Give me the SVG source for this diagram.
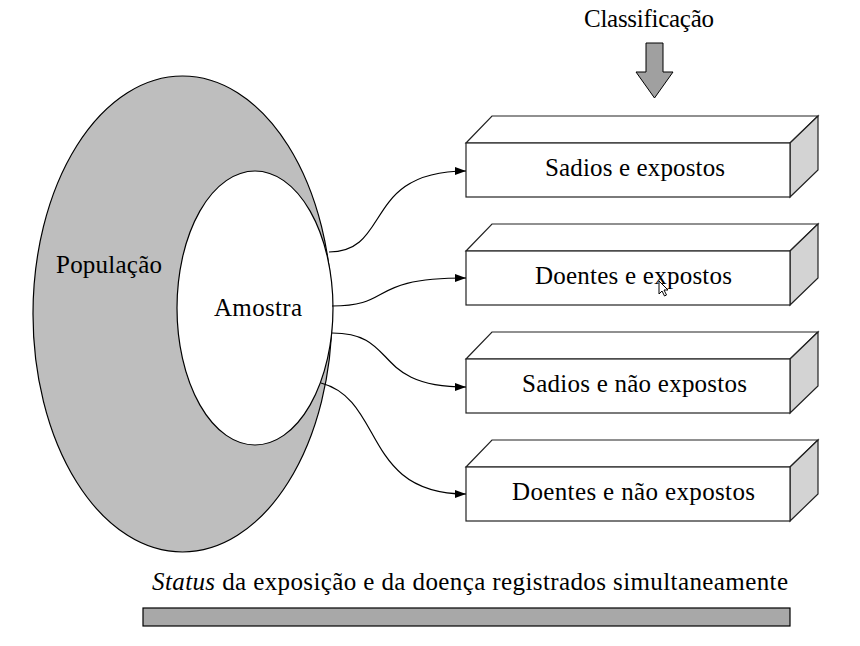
<svg xmlns="http://www.w3.org/2000/svg" width="860" height="646" viewBox="0 0 860 646" font-family="'Liberation Serif', 'DejaVu Serif', serif">
<style>
text{font-family:'Liberation Serif','DejaVu Serif',serif;font-size:25px;fill:#000}
.c{text-anchor:middle}
.front{fill:#fff;stroke:#222;stroke-width:1.2}
.top{fill:#fff;stroke:#222;stroke-width:1.2;stroke-linejoin:miter}
.side{fill:#d3d3d3;stroke:#222;stroke-width:1.2}
.conn{fill:none;stroke:#000;stroke-width:1.2}
</style>
<defs>
<marker id="ah" markerWidth="12" markerHeight="10" refX="11" refY="4" orient="auto" markerUnits="userSpaceOnUse">
<path d="M0,0 L11,4 L0,8 Z" fill="#000"/>
</marker>
</defs>
<rect width="860" height="646" fill="#fff"/>
<g id="populacao">
<ellipse cx="182.5" cy="314" rx="149.5" ry="238" fill="#bebebe" stroke="#000" stroke-width="1.2"/>
<text x="56" y="273" textLength="106" lengthAdjust="spacing">População</text>
</g>
<g id="amostra">
<ellipse cx="255" cy="308" rx="78" ry="137" fill="#fff" stroke="#000" stroke-width="1.2"/>
<text x="214" y="316" textLength="88" lengthAdjust="spacing">Amostra</text>
</g>
<g id="classificacao">
<text x="584" y="27" textLength="130" lengthAdjust="spacing">Classificação</text>
<polygon points="646,43 663,43 663,72 673,72 654.5,98 636,72 646,72" fill="#a0a0a0" stroke="#000" stroke-width="1"/>
</g>
<g id="box1">
<polygon class="top" points="466,143 492,116 818,116 790,143"/>
<polygon class="side" points="790,143 818,116 818,170 790,197"/>
<rect class="front" x="466" y="143" width="324" height="54"/>
<text x="545" y="176" textLength="180" lengthAdjust="spacing">Sadios e expostos</text>
</g>
<g id="box2">
<polygon class="top" points="466,251 492,224 818,224 790,251"/>
<polygon class="side" points="790,251 818,224 818,278 790,305"/>
<rect class="front" x="466" y="251" width="324" height="54"/>
<text x="535" y="284" textLength="197" lengthAdjust="spacing">Doentes e expostos</text>
</g>
<g id="box3">
<polygon class="top" points="466,359 492,332 818,332 790,359"/>
<polygon class="side" points="790,359 818,332 818,386 790,413"/>
<rect class="front" x="466" y="359" width="324" height="54"/>
<text x="522" y="392" textLength="225" lengthAdjust="spacing">Sadios e não expostos</text>
</g>
<g id="box4">
<polygon class="top" points="466,467 492,440 818,440 790,467"/>
<polygon class="side" points="790,467 818,440 818,494 790,521"/>
<rect class="front" x="466" y="467" width="324" height="54"/>
<text x="512" y="500" textLength="243" lengthAdjust="spacing">Doentes e não expostos</text>
</g>
<g id="connectors">
<path class="conn" d="M329,252 C392,252 362,171 466,171" marker-end="url(#ah)"/>
<path class="conn" d="M332,306 C395,306 365,278 466,278" marker-end="url(#ah)"/>
<path class="conn" d="M332,333 C400,333 370,387 466,387" marker-end="url(#ah)"/>
<path class="conn" d="M321,383 C385,400 362,494 466,494" marker-end="url(#ah)"/>
</g>
<g id="cursor">
<polygon points="659,281 659,294 662,291 664.5,296 666.5,295 664,290 668,290" fill="#fff" stroke="#000" stroke-width="1"/>
</g>
<g id="status">
<text x="152" y="590" textLength="636" lengthAdjust="spacing"><tspan font-style="italic">Status</tspan> da exposição e da doença registrados simultaneamente</text>
<rect x="143" y="608" width="647" height="18" fill="#a8a8a8" stroke="#000" stroke-width="1.2"/>
</g>
</svg>
